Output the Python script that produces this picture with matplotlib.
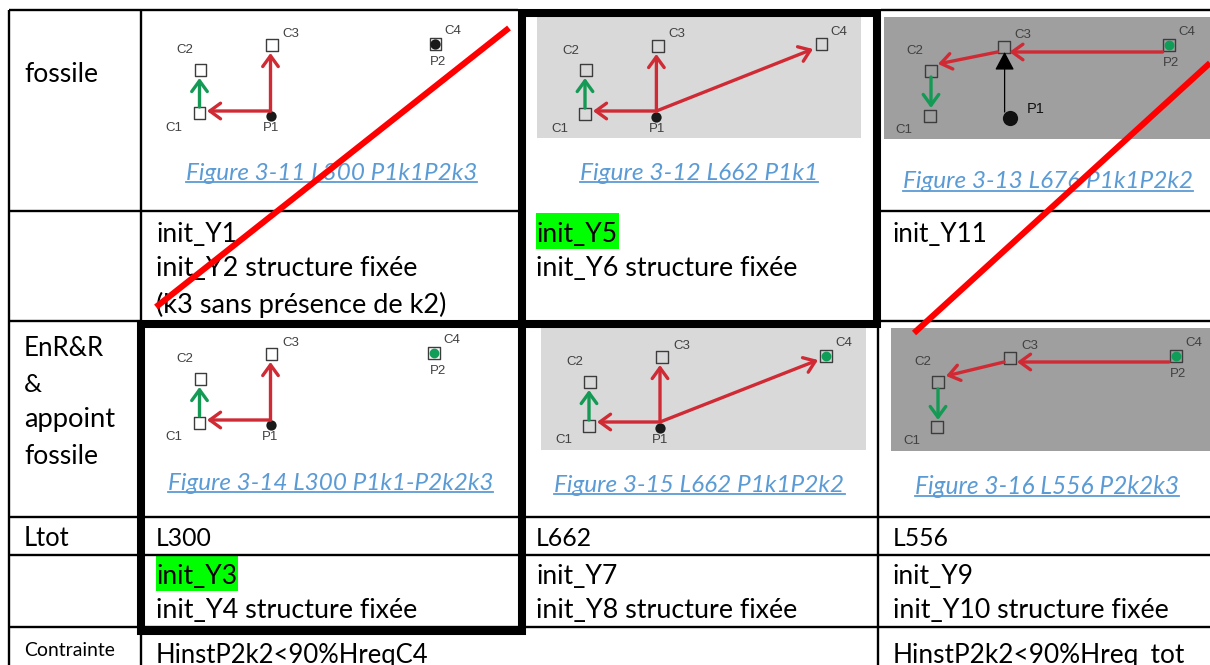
import matplotlib
matplotlib.use("Agg")
import matplotlib.pyplot as plt
from matplotlib.patches import Rectangle

plt.rcParams['font.family'] = ['Lato', 'DejaVu Sans']

W, H = 1210, 665
RED, GREEN, EDGE = '#d02a34', '#159a55', '#3c3c3c'
BLUE = '#5b9bd5'
LIGHT, DARK = '#d9d9d9', '#9f9f9f'

# table rules: (x0, y0, x1, y1)
rules = [
    (9, 10, 518, 10), (881, 10, 1210, 10),
    (9, 10, 9, 665), (141, 10, 141, 665),
    (9, 211, 518, 211), (881, 211, 1210, 211),
    (9, 321, 141, 321), (881, 321, 1210, 321),
    (9, 517, 1210, 517), (9, 555, 1210, 555), (9, 627, 1210, 627),
    (878, 328, 878, 665),
]
thick_boxes = [(522, 13, 355, 311), (141, 324, 381, 307)]
backgrounds = [
    (537, 17, 324, 121, LIGHT), (884, 17, 326, 122, DARK),
    (541, 328, 325, 122, LIGHT), (891, 328, 319, 123, DARK),
]
highlights = [(536, 213, 83, 36), (155.5, 556, 82.5, 35)]

# body text: (x, y, string, target width in px)
body = [
    (24, 72, 'fossile', 74), (24, 347, 'EnR&R', 80), (24, 382, '&', 18),
    (24, 418, 'appoint', 91), (24, 454, 'fossile', 74), (24, 537, 'Ltot', 46),
    (156, 232, 'init_Y1', 81), (156, 267, 'init_Y2 structure fixée', 261),
    (156, 303, '(k3 sans présence de k2)', 290),
    (536, 232, 'init_Y5', 81), (536, 267, 'init_Y6 structure fixée', 261),
    (893, 232, 'init_Y11', 95),
    (156, 537, 'L300', 56), (536, 537, 'L662', 56), (893, 537, 'L556', 56),
    (156, 574, 'init_Y3', 81), (156, 609, 'init_Y4 structure fixée', 261),
    (536, 574, 'init_Y7', 81), (536, 609, 'init_Y8 structure fixée', 261),
    (893, 574, 'init_Y9', 81), (893, 609, 'init_Y10 structure fixée', 276),
    (24, 648, 'Contrainte', 91),
    (156, 653, 'HinstP2k2<90%HreqC4', 272), (893, 653, 'HinstP2k2<90%Hreq_tot', 292),
]
# captions: (x, y, string, target width)
captions = [
    (186, 171, 'Figure 3-11 L300 P1k1P2k3', 291),
    (580, 171, 'Figure 3-12 L662 P1k1', 238),
    (903, 180, 'Figure 3-13 L676 P1k1P2k2', 290),
    (168, 481, 'Figure 3-14 L300 P1k1-P2k2k3', 325),
    (554, 483, 'Figure 3-15 L662 P1k1P2k2', 291),
    (915, 485, 'Figure 3-16 L556 P2k2k3', 264),
]
# diagram squares
squares = [
    (199.5, 113), (200.5, 70), (272, 45), (435.4, 44),
    (585, 114), (586, 70), (658, 46), (821.5, 44),
    (930, 116), (931, 71), (1004, 47), (1169, 45),
    (199.5, 423), (200.5, 379), (271.5, 354), (434, 353),
    (589, 426), (590, 382), (662, 357), (826, 356),
    (937, 427), (938, 382), (1010, 358), (1176, 356),
]
black_dots = [(270.5, 116), (435.4, 44), (656.4, 117), (270.5, 425), (660, 428)]
big_dots = [(1010, 118)]
green_dots = [(1169, 45), (434, 353), (826, 356), (1176, 356)]
# small labels
labels = [
    (174, 128, 'C1'), (185, 50, 'C2'), (291, 34, 'C3'), (453, 31, 'C4'), (271, 128, 'P1'), (438, 62, 'P2'),
    (560, 129, 'C1'), (570.6, 51, 'C2'), (677, 34, 'C3'), (839, 32, 'C4'), (657, 129, 'P1'),
    (904, 130, 'C1'), (915, 51, 'C2'), (1023, 35, 'C3'), (1187, 32, 'C4'), (1171, 63, 'P2'),
    (174, 437, 'C1'), (185, 359, 'C2'), (291, 343, 'C3'), (452, 340, 'C4'), (270.5, 437, 'P1'), (438, 371, 'P2'),
    (563.6, 440, 'C1'), (574.6, 362, 'C2'), (681.5, 346, 'C3'), (843.5, 343, 'C4'), (660, 440, 'P1'),
    (912, 441, 'C1'), (923, 362, 'C2'), (1030, 346, 'C3'), (1194, 343, 'C4'), (1177.6, 374, 'P2'),
]
# arrows: (x0, y0, x1, y1)
red_arrows = [
    (270.5, 111, 207, 111), (270.5, 111, 270.5, 53),
    (656.4, 111, 593, 111), (656.4, 111, 656.4, 54), (656.4, 111, 813, 49),
    (1162.6, 52, 1009.4, 52), (997.5, 52, 938, 64),
    (270.5, 420, 207, 420), (270.5, 420, 270.5, 362),
    (660, 422, 597, 422), (660, 422, 660, 365), (660, 422, 818, 360),
    (1169, 362, 1017, 362), (1004, 362, 946, 376),
]
green_arrows = [
    (199.5, 107, 199.5, 78), (585, 108, 585, 78), (931, 77, 931, 108),
    (199.5, 416, 199.5, 387), (589, 420, 589, 390), (938, 389, 938, 420),
]
black_arrow = (1004.6, 112, 1004.6, 52)
cross_lines = [(156, 307, 509, 28), (914, 333, 1210, 63)]

fig = plt.figure(figsize=(W / 100, H / 100), dpi=100)
ax = fig.add_axes([0, 0, 1, 1])
ax.set_xlim(0, W)
ax.set_ylim(H, 0)
ax.axis('off')
renderer = fig.canvas.get_renderer()

def fitted(x, y, s, width, **kw):
    t = ax.text(x, y + 2, s, ha='left', va='center', fontsize=17, zorder=4, **kw)
    w = t.get_window_extent(renderer).width
    t.set_fontsize(17 * width / w)
    return t

for x, y, w, h, c in backgrounds:
    ax.add_patch(Rectangle((x, y), w, h, fc=c, ec='none', zorder=1))
for x, y, w, h in highlights:
    ax.add_patch(Rectangle((x, y), w, h, fc='#00ff00', ec='none', zorder=1))
for x0, y0, x1, y1 in rules:
    ax.plot([x0, x1], [y0, y1], color='black', lw=1.7, solid_capstyle='butt', zorder=2)
for x, y, w, h in thick_boxes:
    ax.add_patch(Rectangle((x, y), w, h, fc='none', ec='black', lw=5.8, joinstyle='miter', zorder=3))

for x, y, s, width in body:
    fitted(x, y, s, width, color='black', clip_on=True)
for x, y, s, width in captions:
    fitted(x, y, s, width, color=BLUE, style='italic')
    ax.plot([x, x + width], [y + 11, y + 11], color=BLUE, lw=1.3, zorder=4)

xs, ys = zip(*squares)
ax.scatter(xs, ys, s=70, marker='s', facecolors='none', edgecolors=EDGE, linewidths=1.0, zorder=5)
xs, ys = zip(*black_dots)
ax.scatter(xs, ys, s=55, color='#1a1a1a', linewidths=0, zorder=5)
xs, ys = zip(*big_dots)
ax.scatter(xs, ys, s=120, color='#111111', linewidths=0, zorder=5)
xs, ys = zip(*green_dots)
ax.scatter(xs, ys, s=50, color='#0f9d58', linewidths=0, zorder=5)
for x, y, s in labels:
    ax.text(x, y, s, ha='center', va='center', fontsize=9.5, color='#404040',
            family=['Liberation Sans', 'DejaVu Sans'], zorder=5)
ax.text(1036, 109, 'P1', ha='center', va='center', fontsize=10.5, color='#111111',
        family=['Liberation Sans', 'DejaVu Sans'], zorder=5)

style = '->,head_length=0.55,head_width=0.4'
for arrows, color in ((red_arrows, RED), (green_arrows, GREEN)):
    for x0, y0, x1, y1 in arrows:
        ax.annotate('', xy=(x1, y1), xytext=(x0, y0), zorder=6,
                    arrowprops=dict(arrowstyle=style, color=color, lw=2.4, mutation_scale=14,
                                    shrinkA=0, shrinkB=0))
x0, y0, x1, y1 = black_arrow
ax.annotate('', xy=(x1, y1), xytext=(x0, y0), zorder=6,
            arrowprops=dict(arrowstyle='-|>,head_length=0.75,head_width=0.4', color='black', lw=0.9,
                            fc='black', mutation_scale=15, shrinkA=0, shrinkB=0))

for x0, y0, x1, y1 in cross_lines:
    ax.plot([x0, x1], [y0, y1], color='#ff0000', lw=4.4, solid_capstyle='butt', zorder=7)

fig.savefig('out.png', dpi=100, facecolor='white')
